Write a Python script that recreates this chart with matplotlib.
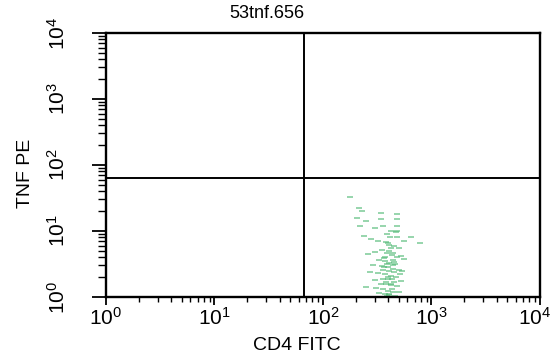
import numpy as np
import matplotlib.pyplot as plt
import matplotlib.transforms as mtransforms
from matplotlib.ticker import LogLocator, NullFormatter

plt.rcParams['font.family'] = ['Liberation Sans', 'DejaVu Sans']
plt.rcParams['mathtext.fontset'] = 'custom'
plt.rcParams['mathtext.rm'] = 'Liberation Sans'
plt.rcParams['mathtext.it'] = 'Liberation Sans'

title = '53tnf.656'
x_label = 'CD4 FITC'
y_label = 'TNF PE'

# quadrant gate positions
gate_cd4 = 67
gate_tnf = 63

decades = [1, 10, 100, 1000, 10000]
decade_labels = [r'$10^{0}$', r'$10^{1}$', r'$10^{2}$', r'$10^{3}$', r'$10^{4}$']

# events (CD4 FITC, TNF PE)
cd4 = [178, 215, 230, 205, 220, 250, 340, 345, 360, 300, 420, 470, 650, 780,
       560, 240, 280, 320, 380, 410, 450, 500, 350, 300, 260, 390, 430, 480,
       520, 560, 330, 370, 410, 460, 290, 350, 395, 440, 500, 540, 270, 320,
       375, 420, 470, 360, 400, 300, 450, 520, 340, 380, 420, 480, 250, 310,
       360, 400, 440, 500, 330, 370, 410, 460, 390, 350, 430, 455, 365, 405,
       480, 480, 480, 480, 480, 415, 385, 440, 395, 425, 360, 445, 510, 405,
       370, 420, 390, 440, 410, 380, 455, 400, 430, 365]
tnf = [33, 22, 20, 16, 12, 14, 19, 15, 12, 11, 10, 9.5, 8, 6.5,
       7, 8.5, 7.5, 7, 6.8, 6.2, 6, 5.5, 5.2, 4.8, 4.5, 4.6, 4.3, 4.0,
       4.2, 3.8, 3.6, 3.5, 3.3, 3.2, 3.0, 2.9, 2.8, 2.7, 2.6, 2.5, 2.4, 2.3,
       2.2, 2.1, 2.0, 1.9, 1.85, 1.8, 1.7, 1.75, 1.6, 1.55, 1.5, 1.45, 1.4, 1.35,
       1.3, 1.25, 1.2, 1.2, 1.15, 1.1, 1.08, 1.05, 1.02, 1.01, 1.3, 2.4, 3.9, 5.0,
       18, 15, 12, 10, 8, 8, 9, 3.0, 2.0, 1.6, 2.6, 3.6, 2.2, 1.12,
       4.1, 5.6, 3.2, 4.7, 2.5, 1.7, 3.4, 6.5, 1.9, 2.8]

fig = plt.figure(figsize=(5.54, 3.62), dpi=100)
ax = fig.add_axes([0.1913, 0.1796, 0.7834, 0.7293])

ax.scatter(cd4, tnf, marker='_', s=16, color='#4fb873', alpha=0.75,
           linewidths=1.1, zorder=2)

ax.set_xscale('log')
ax.set_yscale('log')
ax.set_xlim(1, 10000)
ax.set_ylim(1, 10000)

ax.axvline(gate_cd4, color='black', lw=1.4, zorder=3)
ax.axhline(gate_tnf, color='black', lw=1.4, zorder=3)

ax.set_xticks(decades)
ax.set_xticklabels(decade_labels, fontsize=15)
ax.set_yticks(decades)
ax.set_yticklabels(decade_labels, fontsize=15, rotation=90, va='center')
ax.xaxis.set_minor_locator(LogLocator(base=10, subs=np.arange(2, 10)))
ax.yaxis.set_minor_locator(LogLocator(base=10, subs=np.arange(2, 10)))
ax.xaxis.set_minor_formatter(NullFormatter())
ax.yaxis.set_minor_formatter(NullFormatter())

ax.tick_params(axis='x', which='major', length=6, width=1.3, pad=1)
ax.tick_params(axis='x', which='minor', length=3.5, width=1.0)
ax.tick_params(axis='y', which='major', length=10, width=1.3, pad=17)
ax.tick_params(axis='y', which='minor', length=6, width=1.0)

for s in ax.spines.values():
    s.set_linewidth(1.7)

# keep the last x label inside the figure
last = ax.get_xticklabels()[-1]
last.set_transform(last.get_transform() +
                   mtransforms.ScaledTranslation(-5 / 100, 0, fig.dpi_scale_trans))

# axis titles sit a little left of the axes centre
fig.text(297 / 554, 1 - 345 / 362, x_label, fontsize=14, ha='center', va='center')
fig.text(25 / 554, 1 - 173 / 362, y_label, fontsize=14, ha='center', va='center',
         rotation=90)
fig.text(267 / 554, 1 - 13 / 362, title, fontsize=13, ha='center', va='center')

fig.savefig('out.png', dpi=100)
